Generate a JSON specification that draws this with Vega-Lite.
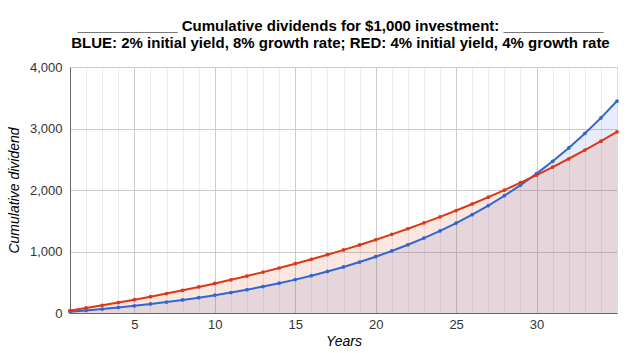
{
  "$schema": "https://vega.github.io/schema/vega-lite/v6.json",
  "autosize": {"type": "none"},
  "padding": {"left": 70, "top": 67, "right": 23, "bottom": 40},
  "width": 547,
  "height": 246,
  "background": "white",
  "title": {
    "text": ["____________ Cumulative dividends for $1,000 investment: ____________", "BLUE: 2% initial yield, 8% growth rate; RED: 4% initial yield, 4% growth rate"],
    "font": "Liberation Sans",
    "fontSize": 15,
    "fontWeight": "bold",
    "lineHeight": 17,
    "color": "#000000",
    "anchor": "middle",
    "dx": -3,
    "offset": 10
  },
  "data": {
    "values": [
      {"year": 1, "series": "blue", "value": 20.0}, {"year": 2, "series": "blue", "value": 41.6}, {"year": 3, "series": "blue", "value": 64.93}, {"year": 4, "series": "blue", "value": 90.12}, {"year": 5, "series": "blue", "value": 117.33},
      {"year": 6, "series": "blue", "value": 146.72}, {"year": 7, "series": "blue", "value": 178.46}, {"year": 8, "series": "blue", "value": 212.73}, {"year": 9, "series": "blue", "value": 249.75}, {"year": 10, "series": "blue", "value": 289.73},
      {"year": 11, "series": "blue", "value": 332.91}, {"year": 12, "series": "blue", "value": 379.54}, {"year": 13, "series": "blue", "value": 429.91}, {"year": 14, "series": "blue", "value": 484.3}, {"year": 15, "series": "blue", "value": 543.04},
      {"year": 16, "series": "blue", "value": 606.49}, {"year": 17, "series": "blue", "value": 675.0}, {"year": 18, "series": "blue", "value": 749.0}, {"year": 19, "series": "blue", "value": 828.93}, {"year": 20, "series": "blue", "value": 915.24},
      {"year": 21, "series": "blue", "value": 1008.46}, {"year": 22, "series": "blue", "value": 1109.13}, {"year": 23, "series": "blue", "value": 1217.87}, {"year": 24, "series": "blue", "value": 1335.3}, {"year": 25, "series": "blue", "value": 1462.12},
      {"year": 26, "series": "blue", "value": 1599.09}, {"year": 27, "series": "blue", "value": 1747.02}, {"year": 28, "series": "blue", "value": 1906.78}, {"year": 29, "series": "blue", "value": 2079.32}, {"year": 30, "series": "blue", "value": 2265.66},
      {"year": 31, "series": "blue", "value": 2466.92}, {"year": 32, "series": "blue", "value": 2684.27}, {"year": 33, "series": "blue", "value": 2919.01}, {"year": 34, "series": "blue", "value": 3172.53}, {"year": 35, "series": "blue", "value": 3446.34},
      {"year": 1, "series": "red", "value": 40.0}, {"year": 2, "series": "red", "value": 81.6}, {"year": 3, "series": "red", "value": 124.86}, {"year": 4, "series": "red", "value": 169.86}, {"year": 5, "series": "red", "value": 216.65},
      {"year": 6, "series": "red", "value": 265.32}, {"year": 7, "series": "red", "value": 315.93}, {"year": 8, "series": "red", "value": 368.57}, {"year": 9, "series": "red", "value": 423.31}, {"year": 10, "series": "red", "value": 480.24},
      {"year": 11, "series": "red", "value": 539.45}, {"year": 12, "series": "red", "value": 601.03}, {"year": 13, "series": "red", "value": 665.07}, {"year": 14, "series": "red", "value": 731.68}, {"year": 15, "series": "red", "value": 800.94},
      {"year": 16, "series": "red", "value": 872.98}, {"year": 17, "series": "red", "value": 947.9}, {"year": 18, "series": "red", "value": 1025.82}, {"year": 19, "series": "red", "value": 1106.85}, {"year": 20, "series": "red", "value": 1191.12},
      {"year": 21, "series": "red", "value": 1278.77}, {"year": 22, "series": "red", "value": 1369.92}, {"year": 23, "series": "red", "value": 1464.72}, {"year": 24, "series": "red", "value": 1563.3}, {"year": 25, "series": "red", "value": 1665.84},
      {"year": 26, "series": "red", "value": 1772.47}, {"year": 27, "series": "red", "value": 1883.37}, {"year": 28, "series": "red", "value": 1998.7}, {"year": 29, "series": "red", "value": 2118.65}, {"year": 30, "series": "red", "value": 2243.4},
      {"year": 31, "series": "red", "value": 2373.13}, {"year": 32, "series": "red", "value": 2508.06}, {"year": 33, "series": "red", "value": 2648.38}, {"year": 34, "series": "red", "value": 2794.32}, {"year": 35, "series": "red", "value": 2946.09}
    ]
  },
  "encoding": {
    "x": {
      "field": "year", "type": "quantitative",
      "scale": {"domain": [1, 35], "nice": false, "zero": false},
      "axis": {
        "title": "Years",
        "values": [2,3,4,5,6,7,8,9,10,11,12,13,14,15,16,17,18,19,20,21,22,23,24,25,26,27,28,29,30,31,32,33,34],
        "labelExpr": "datum.value % 5 === 0 ? datum.label : ''",
        "ticks": false,
        "gridColor": {"condition": {"test": "datum.value % 5 === 0", "value": "#cccccc"}, "value": "#ebebeb"},
        "domainColor": "#666666",
        "labelFont": "Liberation Sans", "labelFontSize": 13, "labelColor": "#333333", "labelPadding": 5,
        "titleFont": "Liberation Sans", "titleFontSize": 14, "titleFontStyle": "italic", "titleFontWeight": "normal", "titleColor": "#000000", "titlePadding": 3
      }
    },
    "y": {
      "field": "value", "type": "quantitative",
      "stack": null,
      "scale": {"domain": [0, 4000], "nice": false},
      "axis": {
        "title": "Cumulative dividend",
        "values": [0, 1000, 2000, 3000, 4000],
        "format": ",.0f",
        "ticks": false,
        "gridColor": "#cccccc",
        "domainColor": "#666666",
        "labelFont": "Liberation Sans", "labelFontSize": 13, "labelColor": "#333333", "labelPadding": 8,
        "titleFont": "Liberation Sans", "titleFontSize": 14, "titleFontStyle": "italic", "titleFontWeight": "normal", "titleColor": "#000000", "titlePadding": 8
      }
    },
    "color": {
      "field": "series", "type": "nominal",
      "scale": {"domain": ["blue", "red"], "range": ["#3366cc", "#dc3912"]},
      "legend": null
    }
  },
  "layer": [
    {"mark": {"type": "area", "fillOpacity": 0.12, "line": false}},
    {"mark": {"type": "line", "strokeWidth": 2}},
    {"mark": {"type": "point", "filled": true, "size": 14, "opacity": 1}}
  ]
}
